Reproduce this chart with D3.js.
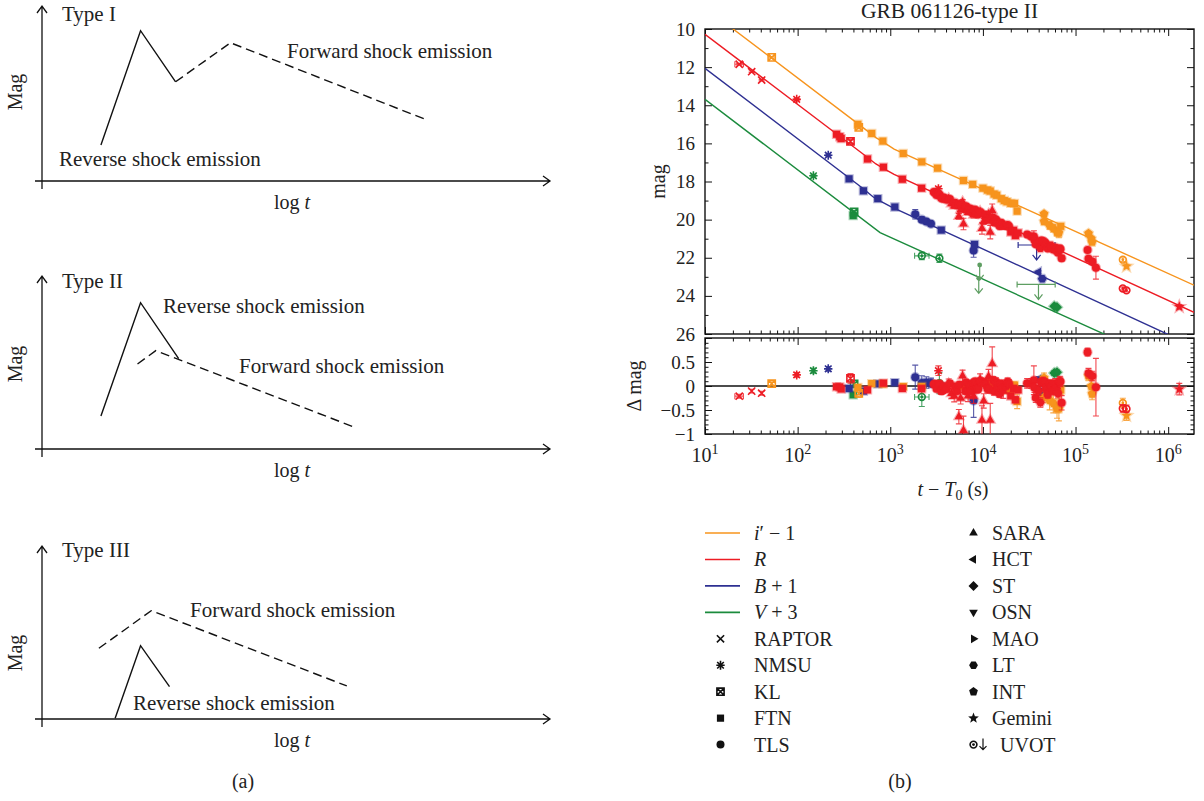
<!DOCTYPE html>
<html>
<head>
<meta charset="utf-8">
<script src="https://cdn.jsdelivr.net/npm/d3@7"></script>
<style>
  body { margin: 0; background: #fff; }
  svg, svg text { font-family: "Liberation Serif", "Times New Roman", serif; }
  svg { display: block; }
</style>
</head>
<body>
<svg id="fig" width="1204" height="801"></svg>
<script>
// ---------------- (a) schematic light curves, units 0..100 on both axes ----------------
const sketchTitles = ["Type I", "Type II", "Type III"];
const reverseI   = [[11.6, 20.6], [19.4, 85.9], [26.3, 56.7]];
const forwardI   = [[26.3, 56.7], [37.1, 79.0], [75.4, 35.3]];
const reverseII  = [[11.6, 18.9], [19.4, 83.6], [26.9, 51.6]];
const forwardII  = [[18.8, 48.6], [22.4, 56.2], [61.3, 12.7]];
const reverseIII = [[14.4, 0.4], [19.4, 41.9], [25.1, 18.5]];
const forwardIII = [[11.2, 40.4], [21.5, 61.9], [60.0, 18.9]];

// ---------------- (b) GRB 061126 light curve ----------------
const bands = ["i", "R", "B", "V"];
const bandColors = { i: "#F7941D", R: "#ED1C24", B: "#2E3092", V: "#1B8B3D" };

// fitted model curves: [t - T0 (s), mag]
const modelI = [[10, 8.88], [500, 15.15], [700, 15.70], [850, 15.95], [1100, 16.30], [1.9e6, 23.44]];
const modelR = [[10, 10.28], [500, 16.53], [700, 17.08], [850, 17.32], [1100, 17.63], [1.9e6, 24.86]];
const modelB = [[10, 12.06], [500, 18.34], [650, 18.80], [800, 19.05], [1000, 19.30], [1.9e6, 26.65]];
const modelV = [[10, 13.69], [776, 20.68], [1.9e6, 28.14]];

// photometry: [t - T0 (s), mag, error, instrument, tLow, tHigh]
const obsI = [
  [52.5, 11.49, 0.04, "KL"],
  [447, 15.00, 0.03, "FTN"], [457, 15.16, 0.08, "KL"], [631, 15.48, 0.03, "FTN"],
  [832, 15.88, 0.03, "FTN"], [1380, 16.53, 0.03, "FTN"], [2190, 16.97, 0.03, "FTN"],
  [3240, 17.30, 0.04, "FTN"], [6170, 17.95, 0.04, "FTN"], [7760, 18.15, 0.04, "FTN"],
  [10000, 18.35, 0.05, "FTN"], [11200, 18.45, 0.05, "FTN"], [12000, 18.50, 0.05, "FTN"],
  [13200, 18.66, 0.05, "FTN"], [14100, 18.72, 0.05, "FTN"], [15800, 18.90, 0.06, "FTN"],
  [17000, 19.00, 0.06, "FTN"], [18200, 19.06, 0.06, "FTN"], [20000, 19.15, 0.06, "FTN"],
  [21900, 19.15, 0.07, "FTN"], [23400, 19.55, 0.15, "FTN"],
  [45700, 19.70, 0.10, "INT"], [45700, 20.10, 0.12, "INT"], [52500, 20.30, 0.20, "LT"],
  [57500, 20.45, 0.20, "LT"], [63100, 20.65, 0.20, "INT"], [66100, 20.70, 0.25, "INT"],
  [69200, 20.35, 0.10, "FTN"],
  [138000, 20.72, 0.10, "INT"], [148000, 21.00, 0.12, "INT"], [151000, 21.18, 0.12, "INT"],
  [324000, 22.10, 0.10, "UVOT"], [355000, 22.45, 0.10, "Gemini"]
];
const obsR = [
  [23.4, 11.85, 0.04, "RAPTOR", 21, 26], [31.9, 12.24, 0.04, "RAPTOR"], [40.9, 12.68, 0.04, "RAPTOR"],
  [97.7, 13.69, 0.05, "NMSU"],
  [263, 15.52, 0.03, "FTN"], [285, 15.65, 0.03, "FTN"], [295, 15.75, 0.03, "FTN"],
  [372, 15.90, 0.10, "KL"], [568, 16.82, 0.03, "FTN"], [843, 17.25, 0.03, "FTN"],
  [1350, 17.88, 0.03, "FTN"], [2180, 18.35, 0.04, "FTN"],
  [2950, 18.55, 0.06, "TLS"], [3050, 18.58, 0.06, "TLS"], [3160, 18.71, 0.06, "TLS"],
  [3310, 18.38, 0.10, "NMSU"], [3400, 18.68, 0.06, "TLS"], [3550, 18.87, 0.07, "TLS"],
  [3700, 18.90, 0.06, "TLS"], [3800, 18.84, 0.06, "TLS"], [4070, 18.96, 0.06, "TLS"],
  [4270, 18.90, 0.10, "SARA"], [4400, 18.92, 0.06, "TLS"], [4570, 19.17, 0.10, "SARA"],
  [4900, 19.29, 0.12, "SARA"], [5010, 19.11, 0.06, "TLS"], [5250, 19.25, 0.06, "TLS"],
  [5500, 19.83, 0.15, "SARA"], [5600, 19.18, 0.06, "TLS"], [5750, 19.49, 0.12, "SARA"],
  [6030, 19.07, 0.12, "SARA"], [6170, 20.23, 0.30, "SARA"], [6460, 19.45, 0.07, "TLS"],
  [6600, 19.30, 0.07, "TLS"], [6920, 19.62, 0.12, "SARA"], [7000, 19.50, 0.07, "TLS"],
  [7240, 19.42, 0.07, "TLS"], [7590, 19.61, 0.07, "TLS"], [7940, 19.76, 0.15, "SARA"],
  [8000, 19.48, 0.07, "TLS"], [8320, 19.50, 0.07, "TLS"], [8600, 19.70, 0.07, "TLS"],
  [8910, 19.72, 0.07, "TLS"], [9330, 19.57, 0.12, "SARA"], [9500, 19.62, 0.07, "TLS"],
  [9770, 20.46, 0.30, "SARA"], [10200, 20.10, 0.15, "SARA"], [10500, 19.75, 0.08, "TLS"],
  [10700, 19.80, 0.08, "TLS"], [11200, 19.94, 0.08, "TLS"], [11500, 19.71, 0.15, "SARA"],
  [11800, 20.00, 0.08, "TLS"], [12000, 20.66, 0.35, "SARA"], [12600, 19.53, 0.35, "SARA"],
  [12900, 19.90, 0.08, "TLS"], [13200, 20.15, 0.08, "TLS"], [13800, 19.99, 0.08, "TLS"],
  [14000, 20.06, 0.08, "TLS"], [14500, 20.19, 0.08, "TLS"], [15100, 20.33, 0.08, "TLS"],
  [15800, 20.17, 0.08, "TLS"], [16200, 20.30, 0.08, "TLS"], [16600, 20.37, 0.15, "SARA"],
  [17800, 20.33, 0.08, "TLS"], [18500, 20.28, 0.08, "TLS"], [19100, 20.35, 0.08, "TLS"],
  [20000, 20.65, 0.05, "FTN"], [21400, 20.56, 0.05, "FTN"], [22400, 20.84, 0.06, "FTN"],
  [24000, 20.70, 0.06, "FTN"], [30000, 20.78, 0.10, "TLS"],
  [33100, 20.88, 0.10, "TLS"], [35500, 20.88, 0.30, "TLS"], [36000, 21.05, 0.10, "TLS"],
  [37200, 21.29, 0.10, "TLS"], [39800, 21.21, 0.10, "LT"], [41700, 21.50, 0.10, "LT"],
  [42500, 21.10, 0.08, "TLS"], [44700, 21.12, 0.08, "TLS"], [47000, 21.20, 0.08, "TLS"],
  [47900, 21.34, 0.08, "TLS"], [50100, 21.51, 0.08, "TLS"], [53700, 21.35, 0.08, "LT"],
  [55000, 21.45, 0.08, "TLS"], [57500, 21.57, 0.08, "TLS"], [60300, 21.46, 0.10, "TLS"],
  [62000, 21.60, 0.10, "TLS"], [64600, 21.73, 0.10, "TLS"], [67600, 21.52, 0.10, "TLS"],
  [68500, 21.55, 0.10, "TLS"], [70800, 22.02, 0.15, "TLS"],
  [134900, 21.59, 0.08, "TLS"], [138000, 22.05, 0.10, "TLS"], [151400, 22.20, 0.10, "TLS"],
  [166000, 22.52, 0.60, "TLS"],
  [323600, 23.61, 0.08, "UVOT"], [354800, 23.71, 0.08, "UVOT"], [1318000, 24.57, 0.12, "Gemini"]
];
const obsB = [
  [214, 16.62, 0.05, "NMSU"], [359, 17.86, 0.03, "FTN"], [513, 18.49, 0.03, "FTN"],
  [733, 18.90, 0.03, "FTN"], [1120, 19.34, 0.03, "FTN"],
  [1860, 19.72, 0.25, "TLS"], [2190, 20.00, 0.15, "TLS"], [2450, 20.10, 0.12, "TLS"],
  [2750, 20.22, 0.10, "TLS"], [3550, 20.55, 0.04, "FTN"],
  [7940, 21.62, 0.35, "TLS"], [8130, 21.30, 0.05, "FTN"],
  [39800, 22.75, 0.06, "HCT"], [43700, 23.10, 0.06, "LT"]
];
const obsV = [
  [148, 17.70, 0.05, "NMSU"], [398, 19.79, 0.04, "FTN"], [407, 19.60, 0.07, "KL"],
  [2190, 21.90, 0.20, "UVOT", 1830, 2620], [3390, 22.03, 0.22, "UVOT"],
  [58900, 24.55, 0.05, "ST"], [63100, 24.60, 0.05, "ST"]
];
// UVOT upper limits: [t - T0 (s), mag, tLow, tHigh]
const limB = [[38000, 21.33, 24000, 60000]];
const limV = [[9230, 22.38], [9020, 23.08], [39800, 23.40, 23400, 60300]];

const xMajor = [10, 100, 1e3, 1e4, 1e5, 1e6];
const magTicks = [10, 12, 14, 16, 18, 20, 22, 24, 26];
const dmagTicks = [-1, -0.5, 0, 0.5];
const legendBands = [
  [["i", true], ["\u2032 \u2212 1", false]],
  [["R", true]],
  [["B", true], [" + 1", false]],
  [["V", true], [" + 3", false]]
];
const legendLeft = ["RAPTOR", "NMSU", "KL", "FTN", "TLS"];
const legendRight = ["SARA", "HCT", "ST", "OSN", "MAO", "LT", "INT", "Gemini", "UVOT"];

// ======================================================================
const svg = d3.select("#fig");
svg.append("rect").attr("width", 1204).attr("height", 801).attr("fill", "#fff");
const FS = 20;

// ---------- (a) ----------
const sx = d3.scaleLinear().domain([0, 100]).range([42, 550]);
const sketchLayout = [
  { axisY: 181, top: 6,   rev: reverseI,   fwd: forwardI,   titleY: 21,
    notes: [["Forward shock emission", 287, 58], ["Reverse shock emission", 59, 166]], magY: 92 },
  { axisY: 449, top: 276, rev: reverseII,  fwd: forwardII,  titleY: 288,
    notes: [["Reverse shock emission", 163, 313], ["Forward shock emission", 239, 373]], magY: 364 },
  { axisY: 719, top: 546, rev: reverseIII, fwd: forwardIII, titleY: 557,
    notes: [["Forward shock emission", 190, 617], ["Reverse shock emission", 133, 710]], magY: 653 }
];
sketchLayout.forEach((p, i) => {
  const sy = d3.scaleLinear().domain([0, 100]).range([p.axisY, p.axisY - 175]);
  const g = svg.append("g");
  const ax = sx(0);
  // axes with open arrowheads
  g.append("path")
    .attr("d", `M${ax},${p.axisY + 8}V${p.top}M${ax - 5},${p.top + 7}L${ax},${p.top}L${ax + 5},${p.top + 7}` +
               `M35,${p.axisY}H550M543,${p.axisY - 5}L550,${p.axisY}L543,${p.axisY + 5}`)
    .attr("fill", "none").attr("stroke", "#111").attr("stroke-width", 1.3);
  const ln = d3.line().x(d => sx(d[0])).y(d => sy(d[1]));
  g.append("path").attr("d", ln(p.rev)).attr("fill", "none").attr("stroke", "#111").attr("stroke-width", 1.4);
  g.append("path").attr("d", ln(p.fwd)).attr("fill", "none").attr("stroke", "#111").attr("stroke-width", 1.4)
    .attr("stroke-dasharray", "9,5");
  g.append("text").attr("x", 62).attr("y", p.titleY).attr("font-size", 21).attr("fill", "#222").text(sketchTitles[i]);
  p.notes.forEach(n => g.append("text").attr("x", n[1]).attr("y", n[2]).attr("font-size", 21).attr("fill", "#222").text(n[0]));
  g.append("text").attr("transform", `translate(22,${p.magY}) rotate(-90)`).attr("text-anchor", "middle")
    .attr("font-size", FS).attr("fill", "#222").text("Mag");
  const lt = g.append("text").attr("x", 292).attr("y", p.axisY + 28).attr("text-anchor", "middle")
    .attr("font-size", FS).attr("fill", "#222");
  lt.append("tspan").text("log ");
  lt.append("tspan").attr("font-style", "italic").text("t");
});
svg.append("text").attr("x", 243).attr("y", 788).attr("text-anchor", "middle").attr("font-size", FS)
  .attr("fill", "#222").text("(a)");

// ---------- (b) ----------
const X0 = 705, X1 = 1194;
const x = d3.scaleLog().domain([10, 1.9e6]).range([X0, X1]);
const y = d3.scaleLinear().domain([10, 26]).range([29, 334]);
const yr = d3.scaleLinear().domain([-1, 1]).range([434, 338]);

const defs = svg.append("defs");
defs.append("clipPath").attr("id", "clipMain").append("rect")
  .attr("x", X0).attr("y", y(10)).attr("width", X1 - X0).attr("height", y(26) - y(10));
defs.append("clipPath").attr("id", "clipRes").append("rect")
  .attr("x", X0).attr("y", yr(1)).attr("width", X1 - X0).attr("height", yr(-1) - yr(1));

// marker shapes
function poly(n, r, rot) {
  const p = [];
  for (let i = 0; i < n; i++) { const a = rot + 2 * Math.PI * i / n; p.push([r * Math.cos(a), r * Math.sin(a)]); }
  return "M" + p.map(q => q[0].toFixed(2) + "," + q[1].toFixed(2)).join("L") + "Z";
}
function starPath(ro, ri) {
  const p = [];
  for (let i = 0; i < 10; i++) { const a = -Math.PI / 2 + Math.PI * i / 5; const r = i % 2 ? ri : ro; p.push([r * Math.cos(a), r * Math.sin(a)]); }
  return "M" + p.map(q => q[0].toFixed(2) + "," + q[1].toFixed(2)).join("L") + "Z";
}
const circ = r => `M${r},0A${r},${r} 0 1 1 ${-r},0A${r},${r} 0 1 1 ${r},0Z`;
const shapes = {
  RAPTOR: { d: "M-3.6,-3.6L3.6,3.6M-3.6,3.6L3.6,-3.6", stroke: true },
  NMSU:   { d: "M0,-4.5V4.5M-4.2,0H4.2M-3.3,-3.3L3.3,3.3M-3.3,3.3L3.3,-3.3", stroke: true },
  KL:     { d: "M-3.6,-3.6H3.6V3.6H-3.6ZM-3.6,-3.6L3.6,3.6M-3.6,3.6L3.6,-3.6", stroke: true },
  FTN:    { d: "M-3.6,-3.6H3.6V3.6H-3.6Z" },
  TLS:    { d: circ(4) },
  SARA:   { d: poly(3, 5, -Math.PI / 2) },
  HCT:    { d: poly(3, 5, Math.PI) },
  ST:     { d: poly(4, 5, -Math.PI / 2) },
  OSN:    { d: poly(3, 5, Math.PI / 2) },
  MAO:    { d: poly(3, 5, 0) },
  LT:     { d: poly(6, 4.4, 0) },
  INT:    { d: poly(5, 4.6, -Math.PI / 2) },
  Gemini: { d: starPath(5.6, 2.4) },
  UVOT:   { d: circ(3.4), stroke: true, dot: true }
};
function drawMarker(g, inst, cx, cy, color, halo) {
  const s = shapes[inst];
  const m = g.append("g").attr("transform", `translate(${cx},${cy})`);
  if (s.stroke) {
    m.append("path").attr("d", s.d).attr("fill", "none").attr("stroke", color).attr("stroke-width", 1.6);
    if (s.dot) m.append("circle").attr("r", 1.4).attr("fill", color);
  } else {
    const p = m.append("path").attr("d", s.d).attr("fill", color);
    if (halo) p.attr("stroke", color).attr("stroke-opacity", 0.35).attr("stroke-width", 2.2);
  }
}
function modelAt(model, t) {
  const lt = Math.log10(t);
  for (let i = 0; i < model.length - 1; i++) {
    const a = Math.log10(model[i][0]), b = Math.log10(model[i + 1][0]);
    if (lt <= b || i === model.length - 2) {
      return model[i][1] + (model[i + 1][1] - model[i][1]) * (lt - a) / (b - a);
    }
  }
}

// frames and ticks
function xTicks(y0, y1) {
  const minors = [];
  xMajor.forEach(d => { for (let k = 2; k <= 9; k++) if (d * k <= 1.9e6) minors.push(d * k); });
  [[d3.axisBottom, y1], [d3.axisTop, y0]].forEach(([fn, yy]) => {
    const gM = svg.append("g").attr("transform", `translate(0,${yy})`)
      .call(fn(x).tickValues(xMajor).tickSize(-7).tickFormat(""));
    const gm = svg.append("g").attr("transform", `translate(0,${yy})`)
      .call(fn(x).tickValues(minors).tickSize(-3.5).tickFormat(""));
    [gM, gm].forEach(g => { g.select(".domain").remove(); g.selectAll("line").attr("stroke", "#111").attr("stroke-width", 1); });
  });
}
function yTicks(scale, majors, minors, fmt) {
  [[d3.axisLeft, X0, true], [d3.axisRight, X1, false]].forEach(([fn, xx, lab]) => {
    const gM = svg.append("g").attr("transform", `translate(${xx},0)`)
      .call(fn(scale).tickValues(majors).tickSize(-7).tickPadding(10).tickFormat(lab ? fmt : ""));
    const gm = svg.append("g").attr("transform", `translate(${xx},0)`)
      .call(fn(scale).tickValues(minors).tickSize(-3.5).tickFormat(""));
    [gM, gm].forEach(g => { g.select(".domain").remove(); g.selectAll("line").attr("stroke", "#111").attr("stroke-width", 1); });
    gM.selectAll("text").attr("font-size", 19).attr("fill", "#222")
      .attr("font-family", '"Liberation Serif","Times New Roman",serif');
  });
}
xTicks(y(10), y(26));
xTicks(yr(1), yr(-1));
yTicks(y, magTicks, d3.range(11, 26, 2), d => d);
yTicks(yr, dmagTicks.concat([1]), d3.range(-10, 11).filter(k => k % 5).map(k => k / 10),
  d => d === 1 ? "" : (d < 0 ? "\u2212" : "") + Math.abs(d));
[[y(10), y(26)], [yr(1), yr(-1)]].forEach(([a, b]) =>
  svg.append("rect").attr("x", X0).attr("y", a).attr("width", X1 - X0).attr("height", b - a)
    .attr("fill", "none").attr("stroke", "#111").attr("stroke-width", 1.4));
svg.append("line").attr("x1", X0).attr("x2", X1).attr("y1", yr(0)).attr("y2", yr(0))
  .attr("stroke", "#111").attr("stroke-width", 1.4);

// x tick labels 10^n
xMajor.forEach(v => {
  const t = svg.append("text").attr("x", x(v)).attr("y", 462).attr("text-anchor", "middle")
    .attr("font-size", 20).attr("fill", "#222");
  t.append("tspan").text("10");
  t.append("tspan").attr("dy", -8).attr("font-size", 14).text(Math.round(Math.log10(v)));
});
// axis titles
const xt = svg.append("text").attr("x", 953).attr("y", 496).attr("text-anchor", "middle").attr("font-size", 20).attr("fill", "#222");
xt.append("tspan").attr("font-style", "italic").text("t");
xt.append("tspan").text(" \u2212 ");
xt.append("tspan").attr("font-style", "italic").text("T");
xt.append("tspan").attr("dy", 4).attr("font-size", 14).text("0");
xt.append("tspan").attr("dy", -4).text(" (s)");
svg.append("text").attr("transform", `translate(665,${(y(10) + y(26)) / 2}) rotate(-90)`).attr("text-anchor", "middle")
  .attr("font-size", 20).attr("fill", "#222").text("mag");
svg.append("text").attr("transform", `translate(641,${(yr(1) + yr(-1)) / 2}) rotate(-90)`).attr("text-anchor", "middle")
  .attr("font-size", 20).attr("fill", "#222").text("\u0394 mag");
svg.append("text").attr("x", (X0 + X1) / 2).attr("y", 18).attr("text-anchor", "middle")
  .attr("font-size", 21.5).attr("fill", "#222").text("GRB 061126-type II");

// model curves
const models = { i: modelI, R: modelR, B: modelB, V: modelV };
const obs = { i: obsI, R: obsR, B: obsB, V: obsV };
const lims = { B: limB, V: limV };
const gLines = svg.append("g").attr("clip-path", "url(#clipMain)");
const line = d3.line().x(d => x(d[0])).y(d => y(d[1]));
bands.forEach(b => gLines.append("path").attr("d", line(models[b])).attr("fill", "none")
  .attr("stroke", bandColors[b]).attr("stroke-width", 1.4));

// points: main panel and residual panel
const gMain = svg.append("g").attr("clip-path", "url(#clipMain)");
const gRes = svg.append("g").attr("clip-path", "url(#clipRes)");
function errBars(g, cx, yTop, yBot, color, xl, xh, cy) {
  g.append("path").attr("d", `M${cx},${yTop}V${yBot}M${cx - 3},${yTop}H${cx + 3}M${cx - 3},${yBot}H${cx + 3}`)
    .attr("fill", "none").attr("stroke", color).attr("stroke-opacity", 0.8).attr("stroke-width", 1.1);
  if (xl != null) g.append("path").attr("d", `M${xl},${cy}H${xh}M${xl},${cy - 3}V${cy + 3}M${xh},${cy - 3}V${cy + 3}`)
    .attr("fill", "none").attr("stroke", color).attr("stroke-opacity", 0.8).attr("stroke-width", 1.1);
}
["V", "B", "i", "R"].forEach(b => {
  const c = bandColors[b];
  obs[b].forEach(d => {
    const [t, mag, err, inst, tl, th] = d;
    const cx = x(t);
    errBars(gMain, cx, y(mag - err), y(mag + err), c, tl ? x(tl) : null, th ? x(th) : null, y(mag));
    drawMarker(gMain, inst, cx, y(mag), c, true);
    const r = modelAt(models[b], t) - mag;
    errBars(gRes, cx, yr(r + err), yr(r - err), c, tl ? x(tl) : null, th ? x(th) : null, yr(r));
    drawMarker(gRes, inst, cx, yr(r), c, true);
  });
  (lims[b] || []).forEach(d => {
    const [t, mag, tl, th] = d;
    const cx = x(t), cy = y(mag);
    const ac = b === "V" ? "#5E9E62" : c;
    const g = gMain.append("g");
    g.append("path").attr("d", `M${cx},${cy}V${cy + 15}M${cx - 4},${cy + 10}L${cx},${cy + 15}L${cx + 4},${cy + 10}`)
      .attr("fill", "none").attr("stroke", ac).attr("stroke-width", 1.2);
    if (tl != null) {
      g.append("path").attr("d", `M${x(tl)},${cy}H${x(th)}M${x(tl)},${cy - 3}V${cy + 3}M${x(th)},${cy - 3}V${cy + 3}`)
        .attr("fill", "none").attr("stroke", ac).attr("stroke-width", 1.2);
    } else {
      g.append("circle").attr("cx", cx).attr("cy", cy).attr("r", 2.4).attr("fill", ac);
    }
  });
});

// legend
const rowY = k => 533 + 26.45 * k;
legendBands.forEach((segs, k) => {
  const b = bands[k];
  svg.append("line").attr("x1", 705).attr("x2", 740).attr("y1", rowY(k)).attr("y2", rowY(k))
    .attr("stroke", bandColors[b]).attr("stroke-width", 1.6);
  const t = svg.append("text").attr("x", 754).attr("y", rowY(k) + 7).attr("font-size", 20).attr("fill", "#222");
  segs.forEach(s => { const ts = t.append("tspan").text(s[0]); if (s[1]) ts.attr("font-style", "italic"); });
});
legendLeft.forEach((name, k) => {
  const yy = rowY(k + 4);
  drawMarker(svg, name, 720.5, yy, "#111", false);
  svg.append("text").attr("x", 754).attr("y", yy + 7).attr("font-size", 20).attr("fill", "#222").text(name);
});
legendRight.forEach((name, k) => {
  const yy = rowY(k);
  if (name === "UVOT") {
    drawMarker(svg, name, 973.5, yy, "#111", false);
    svg.append("path").attr("d", `M983,${yy - 6}V${yy + 5}M979.5,${yy + 1.5}L983,${yy + 5}L986.5,${yy + 1.5}`)
      .attr("fill", "none").attr("stroke", "#111").attr("stroke-width", 1.2);
    svg.append("text").attr("x", 1000).attr("y", yy + 7).attr("font-size", 20).attr("fill", "#222").text(name);
  } else {
    drawMarker(svg, name, 973.5, yy, "#111", false);
    svg.append("text").attr("x", 992).attr("y", yy + 7).attr("font-size", 20).attr("fill", "#222").text(name);
  }
});
svg.append("text").attr("x", 900).attr("y", 788).attr("text-anchor", "middle").attr("font-size", 20)
  .attr("fill", "#222").text("(b)");
</script>
</body>
</html>
